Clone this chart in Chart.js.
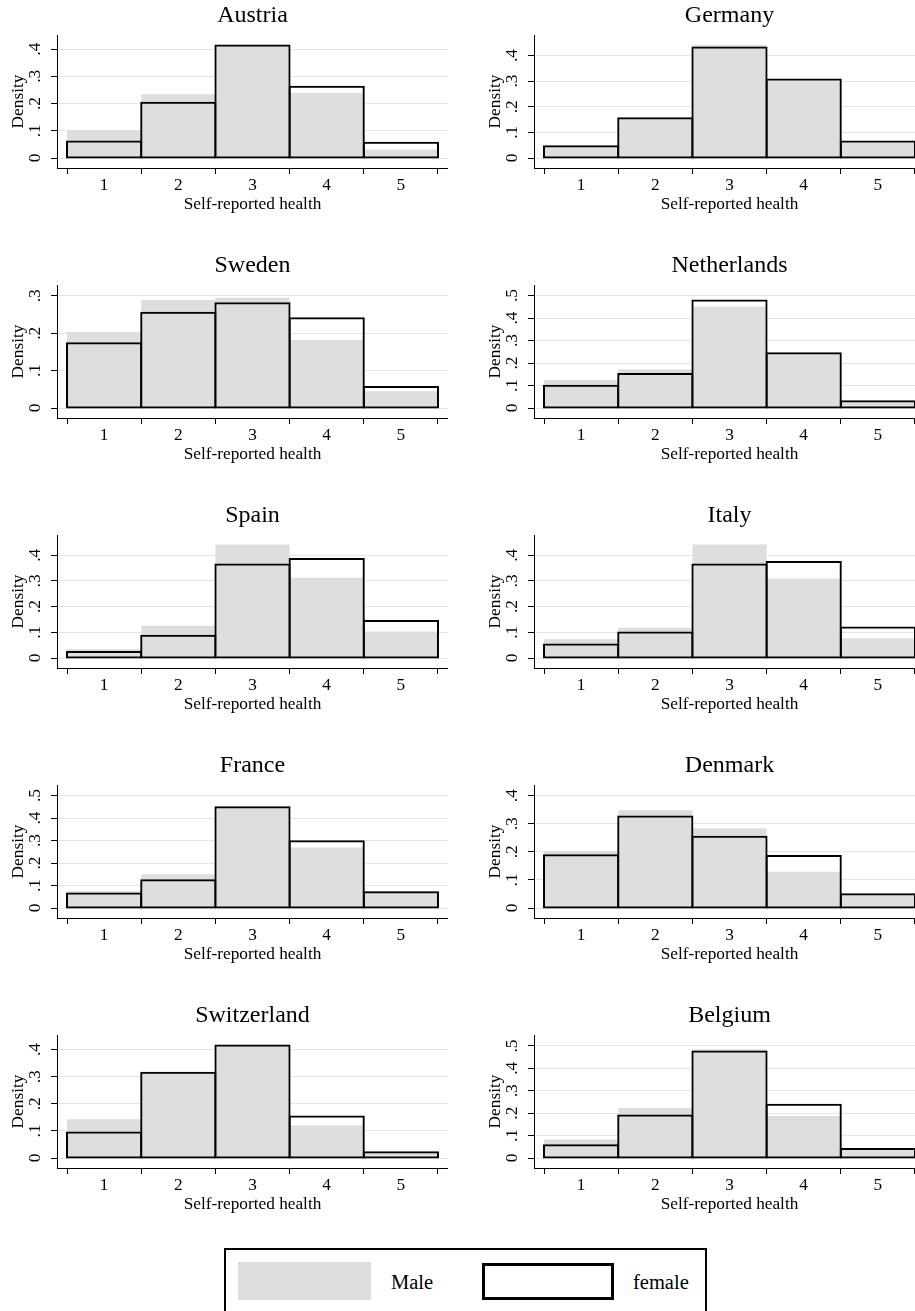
<!DOCTYPE html>
<html>
<head>
<meta charset="utf-8">
<title>Self-reported health by country and sex</title>
<script src="https://cdn.jsdelivr.net/npm/chart.js@4.4.0/dist/chart.umd.min.js"></script>
<style>
  html, body { margin: 0; padding: 0; background: #fff; overflow: hidden; }
  #page { position: relative; width: 915px; height: 1311px; overflow: hidden; }
  #page canvas { position: absolute; }
  #legend {
    position: absolute; left: 224px; top: 1248px; width: 483px; height: 90px;
    border: 2px solid #000; box-sizing: border-box; background: #fff; z-index: 2;
    font-family: "Liberation Serif", "Times New Roman", serif; font-size: 20.5px; color: #000;
  }
  #legend .sw { position: absolute; box-sizing: border-box; }
  #legend .lab { position: absolute; line-height: 24px; height: 24px; }
</style>
</head>
<body>
<div id="page">
  <div id="legend">
    <div class="sw" style="left:12px; top:12px; width:133px; height:38px; background:#dedede;"></div>
    <div class="lab" style="left:165px; top:20px;">Male</div>
    <div class="sw" style="left:256px; top:13px; width:132px; height:37px; border:3px solid #000; background:#fff;"></div>
    <div class="lab" style="left:407px; top:20px;">female</div>
  </div>
</div>
<script>
// Response categories of self-reported health
const healthScores = [1, 2, 3, 4, 5];

// Panel order (two columns, five rows)
const countries = ['Austria', 'Germany', 'Sweden', 'Netherlands', 'Spain',
                   'Italy', 'France', 'Denmark', 'Switzerland', 'Belgium'];

// Density of each health category, by sex
const maleAustria      = [0.103, 0.234, 0.414, 0.240, 0.031];
const femaleAustria    = [0.061, 0.203, 0.413, 0.262, 0.056];
const maleGermany      = [0.044, 0.152, 0.441, 0.302, 0.061];
const femaleGermany    = [0.046, 0.155, 0.431, 0.306, 0.064];
const maleSweden       = [0.203, 0.289, 0.295, 0.182, 0.045];
const femaleSweden     = [0.173, 0.255, 0.280, 0.240, 0.056];
const maleNetherlands  = [0.125, 0.172, 0.451, 0.245, 0.027];
const femaleNetherlands= [0.099, 0.151, 0.478, 0.243, 0.030];
const maleSpain        = [0.035, 0.126, 0.442, 0.313, 0.103];
const femaleSpain      = [0.023, 0.087, 0.364, 0.386, 0.144];
const maleItaly        = [0.073, 0.118, 0.442, 0.309, 0.077];
const femaleItaly      = [0.053, 0.099, 0.364, 0.374, 0.119];
const maleFrance       = [0.074, 0.150, 0.451, 0.269, 0.076];
const femaleFrance     = [0.064, 0.123, 0.448, 0.297, 0.070];
const maleDenmark      = [0.203, 0.348, 0.284, 0.129, 0.047];
const femaleDenmark    = [0.188, 0.326, 0.254, 0.185, 0.049];
const maleSwitzerland  = [0.143, 0.315, 0.415, 0.121, 0.020];
const femaleSwitzerland= [0.094, 0.315, 0.415, 0.153, 0.021];
const maleBelgium      = [0.083, 0.223, 0.485, 0.188, 0.040];
const femaleBelgium    = [0.057, 0.190, 0.475, 0.238, 0.040];

const maleSeries   = [maleAustria, maleGermany, maleSweden, maleNetherlands, maleSpain,
                      maleItaly, maleFrance, maleDenmark, maleSwitzerland, maleBelgium];
const femaleSeries = [femaleAustria, femaleGermany, femaleSweden, femaleNetherlands, femaleSpain,
                      femaleItaly, femaleFrance, femaleDenmark, femaleSwitzerland, femaleBelgium];

// Highest labelled density tick of each panel, and the upper end of its y range
const yTickTop   = [0.4, 0.4, 0.3, 0.5, 0.4, 0.4, 0.5, 0.4, 0.4, 0.5];
const yRangeTop  = [0.452, 0.480, 0.329, 0.547, 0.479, 0.479, 0.547, 0.438, 0.454, 0.549];

const SERIF = '"Liberation Serif", "Times New Roman", serif';
const smallFont = { family: SERIF, size: 17.3, weight: 'normal' };
const titleFont = { family: SERIF, size: 24, weight: 'normal' };

function densityLabel(v) {
  if (Math.abs(v) < 1e-9) return '0';
  return (Math.round(v * 10) / 10).toFixed(1).replace(/^0\./, '.');
}

function drawPanel(i) {
  const page = document.getElementById('page');
  const cv = document.createElement('canvas');
  cv.width = 448;
  cv.height = 250;
  cv.style.left = (i % 2 === 0 ? 0 : 477) + 'px';
  cv.style.top = (Math.floor(i / 2) * 250) + 'px';
  page.appendChild(cv);

  const top = yRangeTop[i];
  const bottom = -top * 10 / 123;
  const tickValues = [];
  for (let k = 0; k <= Math.round(yTickTop[i] * 10); k++) tickValues.push(k / 10);

  new Chart(cv, {
    type: 'bar',
    data: {
      datasets: [
        {
          // outline-only bars; the thin border plus a 1px inflate gives a
          // 2px outline centred on each bin edge, so shared edges stay 2px
          label: 'female',
          data: healthScores.map((s, k) => ({ x: s, y: femaleSeries[i][k] })),
          backgroundColor: 'rgba(255,255,255,0)',
          borderColor: '#000',
          borderWidth: 0.01,
          borderSkipped: false,
          inflateAmount: 1,
          order: 0
        },
        {
          label: 'Male',
          data: healthScores.map((s, k) => ({ x: s, y: maleSeries[i][k] })),
          backgroundColor: '#dedede',
          borderWidth: 0,
          inflateAmount: 0,
          order: 1
        }
      ]
    },
    options: {
      responsive: false,
      animation: false,
      devicePixelRatio: 1,
      layout: { padding: 0 },
      datasets: { bar: { grouped: false, barPercentage: 1, categoryPercentage: 1 } },
      plugins: {
        legend: { display: false },
        tooltip: { enabled: false },
        title: {
          display: true,
          text: countries[i],
          fullSize: false,
          color: '#000',
          font: titleFont,
          padding: { top: 1.5, bottom: 4.7 }
        }
      },
      scales: {
        x: {
          type: 'linear',
          min: 0.365,
          max: 5.635,
          offset: false,
          afterBuildTicks: s => { s.ticks = healthScores.map(v => ({ value: v })); },
          afterFit: s => { s.height = 82; },
          ticks: { color: '#000', font: smallFont, padding: 1.5, maxRotation: 0, autoSkip: false },
          grid: { drawOnChartArea: false, drawTicks: true, tickLength: 6, tickColor: '#000', tickWidth: 1 },
          border: { display: true, color: '#000', width: 1 },
          title: { display: true, text: 'Self-reported health', color: '#000', font: smallFont,
                   padding: { top: 0, bottom: 34.8 } }
        },
        y: {
          min: bottom,
          max: top,
          afterBuildTicks: s => { s.ticks = tickValues.map(v => ({ value: v })); },
          afterFit: s => { s.width = 57; },
          ticks: { color: '#000', font: smallFont, minRotation: 90, maxRotation: 90,
                   crossAlign: 'center', padding: 9.5, callback: densityLabel },
          grid: { color: '#e6e6e6', lineWidth: 1, drawTicks: true, tickLength: 6, tickColor: '#000', tickWidth: 1 },
          border: { display: true, color: '#000', width: 1 },
          title: { display: true, text: 'Density', color: '#000', font: smallFont,
                   padding: { top: 8, bottom: 0 } }
        }
      }
    }
  });
}

countries.forEach((_, i) => drawPanel(i));
</script>
</body>
</html>
